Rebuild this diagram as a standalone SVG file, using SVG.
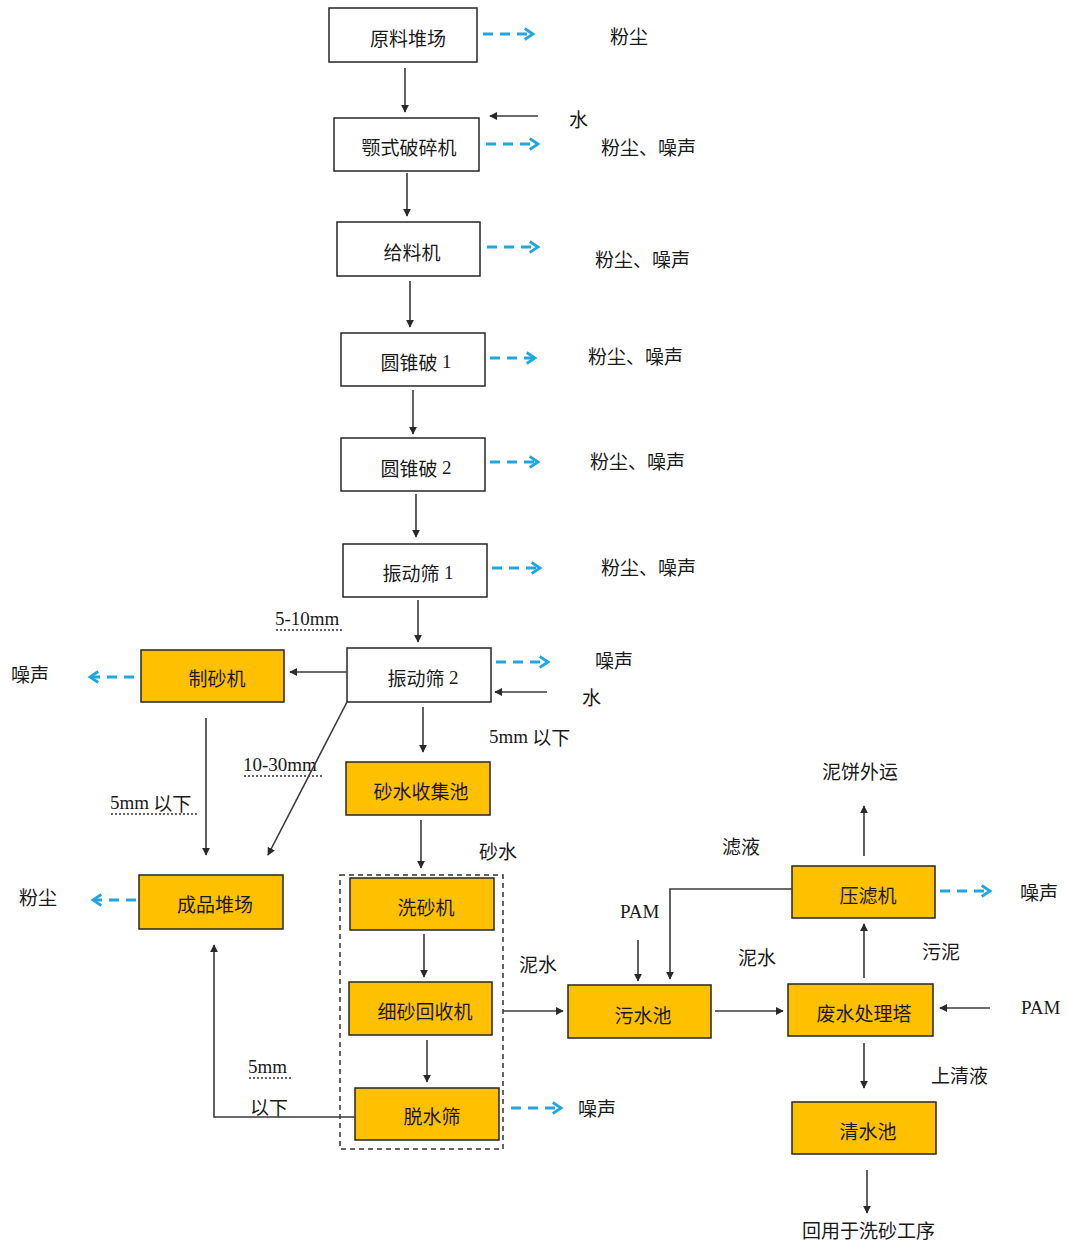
<svg xmlns="http://www.w3.org/2000/svg" width="1068" height="1243" viewBox="0 0 1068 1243">
  <style>
    .box { fill: #ffffff; stroke: #262626; stroke-width: 1.5; }
    .hot { fill: #FFC000; stroke: #262626; stroke-width: 1.5; }
    .lbl { font-family: "Noto Sans CJK SC", "Liberation Sans", sans-serif; font-size: 19px; fill: #1a1a1a; text-anchor: middle; dominant-baseline: central; }
    .tag { font-family: "Noto Sans CJK SC", "Liberation Sans", sans-serif; font-size: 19px; fill: #1a1a1a; dominant-baseline: central; }
    .ser { font-family: "Liberation Serif", "Noto Sans CJK SC", serif; font-size: 19px; fill: #1a1a1a; dominant-baseline: central; }
    .flow { fill: none; stroke: #3a3a3a; stroke-width: 1.6; marker-end: url(#ah); }
    .emit { fill: none; stroke: #21A6DF; stroke-width: 3; stroke-dasharray: 10 7; marker-end: url(#bh); }
    .ul { stroke: #333; stroke-width: 1.3; stroke-dasharray: 2 2; }
  </style>
  <defs>
    <marker id="ah" viewBox="0 0 10 10" refX="9" refY="5" markerWidth="8" markerHeight="8" markerUnits="userSpaceOnUse" orient="auto">
      <path d="M0,0 L10,5 L0,10 z" fill="#2a2a2a"/>
    </marker>
    <marker id="bh" viewBox="0 0 10 10" refX="8" refY="5" markerWidth="4.6" markerHeight="4.6" orient="auto">
      <path d="M2,1 L8,5 L2,9" fill="none" stroke="#21A6DF" stroke-width="2"/>
    </marker>
  </defs>
  <rect width="1068" height="1243" fill="#ffffff"/>

  <!-- process nodes -->
  <g id="n-raw"><rect class="box" x="329" y="8" width="148" height="54"/><text class="lbl" x="408" y="37">原料堆场</text></g>
  <g id="n-jaw"><rect class="box" x="334" y="118" width="145" height="53"/><text class="lbl" x="409" y="146">颚式破碎机</text></g>
  <g id="n-feed"><rect class="box" x="337" y="222" width="143" height="54"/><text class="lbl" x="412" y="251">给料机</text></g>
  <g id="n-cone1"><rect class="box" x="341" y="333" width="144" height="53"/><text class="lbl" x="416" y="361">圆锥破 <tspan font-family="Liberation Serif, serif">1</tspan></text></g>
  <g id="n-cone2"><rect class="box" x="341" y="438" width="144" height="53"/><text class="lbl" x="416" y="467">圆锥破 <tspan font-family="Liberation Serif, serif">2</tspan></text></g>
  <g id="n-screen1"><rect class="box" x="343" y="544" width="144" height="53"/><text class="lbl" x="418" y="572">振动筛 <tspan font-family="Liberation Serif, serif">1</tspan></text></g>
  <g id="n-screen2"><rect class="box" x="347" y="648" width="144" height="54"/><text class="lbl" x="423" y="677">振动筛 <tspan font-family="Liberation Serif, serif">2</tspan></text></g>
  <g id="n-sandmaker"><rect class="hot" x="141" y="650" width="143" height="52"/><text class="lbl" x="217" y="677">制砂机</text></g>
  <g id="n-product"><rect class="hot" x="139" y="875" width="144" height="54"/><text class="lbl" x="215" y="903">成品堆场</text></g>
  <g id="n-collect"><rect class="hot" x="346" y="762" width="144" height="53"/><text class="lbl" x="421" y="790">砂水收集池</text></g>
  <g id="n-washgroup"><rect x="340" y="875" width="163" height="274" fill="none" stroke="#333" stroke-width="1.5" stroke-dasharray="5 4"/></g>
  <g id="n-washer"><rect class="hot" x="350" y="878" width="144" height="52"/><text class="lbl" x="426" y="906">洗砂机</text></g>
  <g id="n-finesand"><rect class="hot" x="349" y="982" width="143" height="53"/><text class="lbl" x="425" y="1010">细砂回收机</text></g>
  <g id="n-dewater"><rect class="hot" x="355" y="1088" width="144" height="52"/><text class="lbl" x="432" y="1115">脱水筛</text></g>
  <g id="n-sewage"><rect class="hot" x="568" y="985" width="143" height="53"/><text class="lbl" x="643" y="1014">污水池</text></g>
  <g id="n-tower"><rect class="hot" x="788" y="984" width="145" height="52"/><text class="lbl" x="864" y="1012">废水处理塔</text></g>
  <g id="n-press"><rect class="hot" x="792" y="866" width="143" height="52"/><text class="lbl" x="868" y="894">压滤机</text></g>
  <g id="n-clear"><rect class="hot" x="792" y="1102" width="144" height="52"/><text class="lbl" x="868" y="1130">清水池</text></g>

  <!-- side labels -->
  <g id="labels">
    <text class="tag" x="610" y="35">粉尘</text>
    <text class="tag" x="569" y="118" font-size="17">水</text>
    <text class="tag" x="601" y="146">粉尘、噪声</text>
    <text class="tag" x="595" y="258">粉尘、噪声</text>
    <text class="tag" x="588" y="355">粉尘、噪声</text>
    <text class="tag" x="590" y="460">粉尘、噪声</text>
    <text class="tag" x="601" y="566">粉尘、噪声</text>
    <text class="tag" x="595" y="659">噪声</text>
    <text class="tag" x="582" y="696">水</text>
    <text class="tag" x="489" y="736"><tspan font-family="Liberation Serif, serif">5mm</tspan> 以下</text>
    <text class="ser" x="275" y="618">5-10mm</text>
    <line class="ul" x1="276" y1="630" x2="344" y2="630"/>
    <text class="tag" x="11" y="673">噪声</text>
    <text class="ser" x="243" y="764">10-30mm</text>
    <line class="ul" x1="244" y1="776" x2="322" y2="776"/>
    <text class="tag" x="110" y="802"><tspan font-family="Liberation Serif, serif">5mm</tspan> 以下</text>
    <line class="ul" x1="111" y1="814" x2="197" y2="814"/>
    <text class="tag" x="19" y="896">粉尘</text>
    <text class="tag" x="479" y="850">砂水</text>
    <text class="tag" x="519" y="963">泥水</text>
    <text class="ser" x="620" y="911">PAM</text>
    <text class="tag" x="738" y="956">泥水</text>
    <text class="tag" x="722" y="845">滤液</text>
    <text class="tag" x="822" y="770">泥饼外运</text>
    <text class="tag" x="1020" y="891">噪声</text>
    <text class="tag" x="922" y="950">污泥</text>
    <text class="ser" x="1021" y="1007">PAM</text>
    <text class="tag" x="931" y="1074">上清液</text>
    <text class="tag" x="802" y="1229">回用于洗砂工序</text>
    <text class="ser" x="248" y="1066">5mm</text>
    <line class="ul" x1="249" y1="1078" x2="291" y2="1078"/>
    <text class="tag" x="250" y="1106">以下</text>
    <text class="tag" x="578" y="1107">噪声</text>
  </g>

  <!-- connectors -->
  <g id="connectors">
    <path class="flow" d="M405,68 V112"/>
    <path class="flow" d="M538,116 H490"/>
    <path class="flow" d="M407,173 V216"/>
    <path class="flow" d="M410,281 V327"/>
    <path class="flow" d="M413,390 V434"/>
    <path class="flow" d="M416,494 V537"/>
    <path class="flow" d="M418,600 V642"/>
    <path class="flow" d="M347,672 H290"/>
    <path class="flow" d="M547,692 H495"/>
    <path class="flow" d="M423,707 V752"/>
    <path class="flow" d="M206,718 V855"/>
    <path class="flow" d="M347,702 L268,855"/>
    <path class="flow" d="M421,820 V868"/>
    <path class="flow" d="M424,934 V977"/>
    <path class="flow" d="M427,1040 V1082"/>
    <path class="flow" d="M503,1011 H563"/>
    <path class="flow" d="M715,1011 H783"/>
    <path class="flow" d="M638,940 V981"/>
    <path class="flow" d="M792,889 H670 V979"/>
    <path class="flow" d="M864,978 V924"/>
    <path class="flow" d="M864,856 V806"/>
    <path class="flow" d="M990,1008 H940"/>
    <path class="flow" d="M864,1043 V1088"/>
    <path class="flow" d="M867,1170 V1213"/>
    <path class="flow" d="M355,1117 H214 V945"/>

    <path class="emit" d="M483,34 H533"/>
    <path class="emit" d="M486,144 H538"/>
    <path class="emit" d="M487,247 H538"/>
    <path class="emit" d="M490,358 H535"/>
    <path class="emit" d="M490,462 H538"/>
    <path class="emit" d="M492,568 H540"/>
    <path class="emit" d="M496,662 H548"/>
    <path class="emit" d="M134,677 H90"/>
    <path class="emit" d="M136,900 H93"/>
    <path class="emit" d="M511,1108 H561"/>
    <path class="emit" d="M940,891 H990"/>
  </g>
</svg>
